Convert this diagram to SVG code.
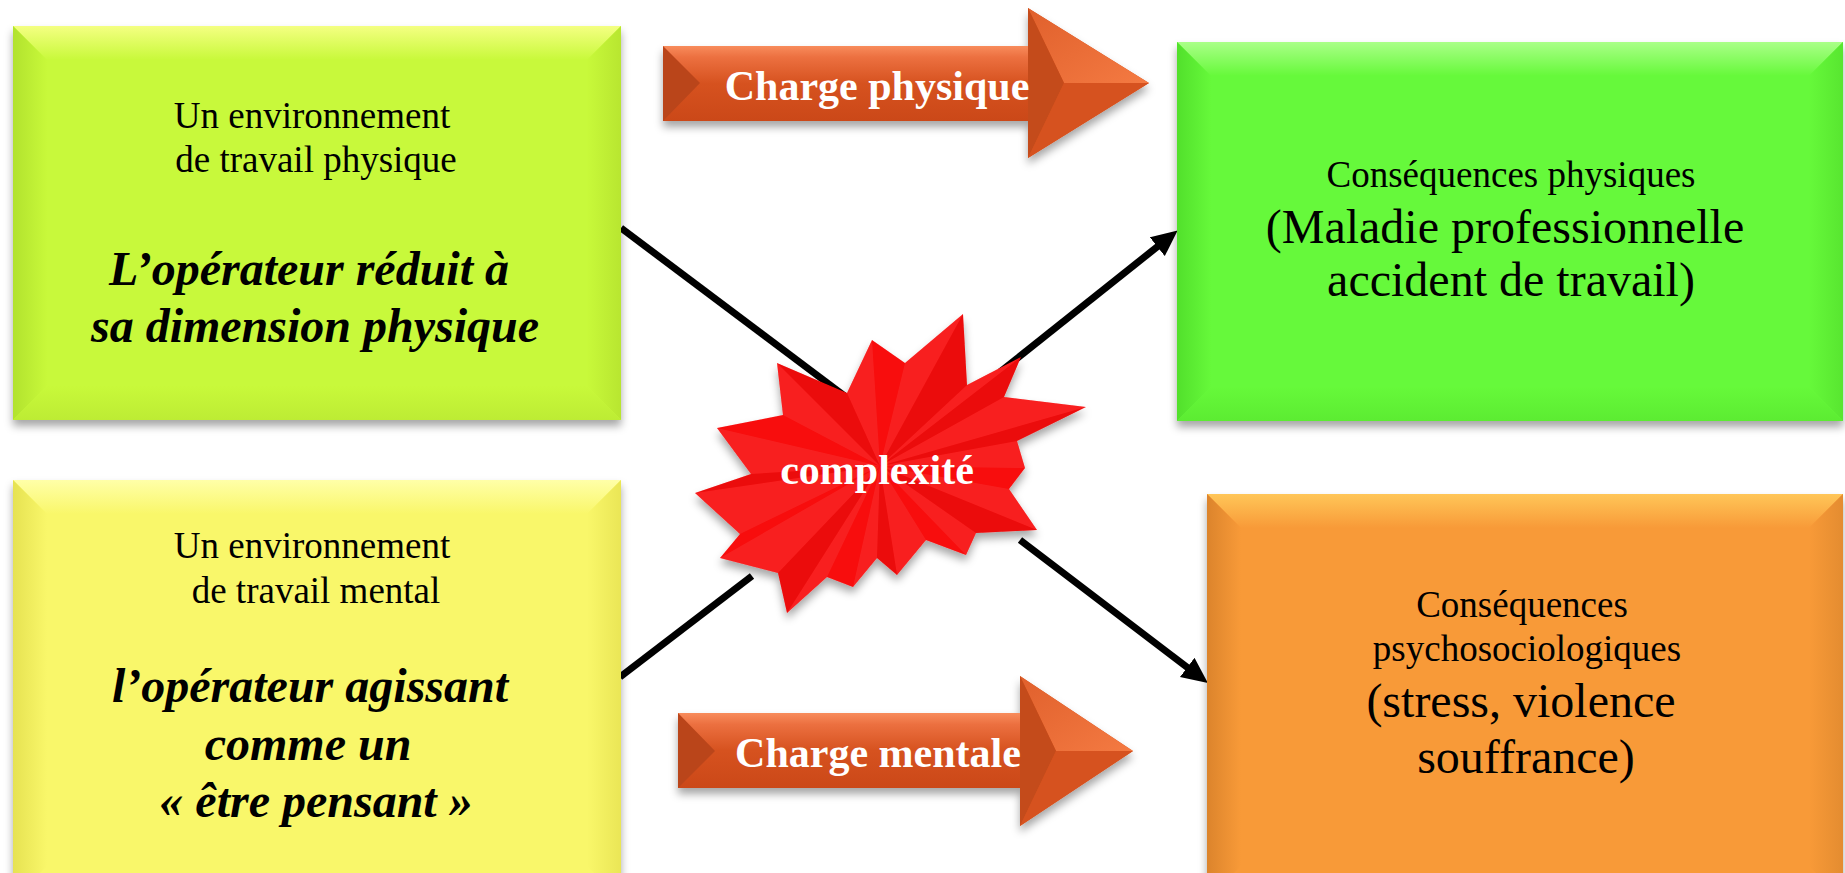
<svg xmlns="http://www.w3.org/2000/svg" width="1845" height="873" viewBox="0 0 1845 873">
<defs>
<style>
.t1{font-family:"Liberation Serif","Times New Roman",serif;font-size:37px;text-anchor:middle;fill:#000}
.t2{font-family:"Liberation Serif","Times New Roman",serif;font-size:48px;font-weight:bold;font-style:italic;text-anchor:middle;fill:#000}
.t3{font-family:"Liberation Serif","Times New Roman",serif;font-size:48px;text-anchor:middle;fill:#000}
.tw{font-family:"Liberation Serif","Times New Roman",serif;font-size:42px;font-weight:bold;text-anchor:middle;fill:#fff}
.conn{stroke:#000;stroke-width:7;fill:none;marker-end:url(#ah)}
.ln{stroke:#000;stroke-width:7;fill:none}
.lt{fill:#fff;fill-opacity:0.08}
.dk{fill:#000;fill-opacity:0.05}
</style>
<filter id="sh" x="-10%" y="-10%" width="120%" height="130%">
<feDropShadow dx="0" dy="6" stdDeviation="4" flood-color="#000" flood-opacity="0.35"/>
</filter>
<marker id="ah" markerUnits="userSpaceOnUse" markerWidth="28" markerHeight="26" refX="6" refY="12" orient="auto">
<path d="M0,0 L26,12 L0,24 z" fill="#000"/>
</marker>
<linearGradient id="aTop" x1="0" y1="0" x2="0" y2="1"><stop offset="0" stop-color="#F4FF82"/><stop offset="1" stop-color="#C8F93A"/></linearGradient>
<linearGradient id="aL" x1="0" y1="0" x2="1" y2="0"><stop offset="0" stop-color="#B2E22E"/><stop offset="1" stop-color="#C8F93A"/></linearGradient>
<linearGradient id="aR" x1="1" y1="0" x2="0" y2="0"><stop offset="0" stop-color="#B8E630"/><stop offset="1" stop-color="#C8F93A"/></linearGradient>
<linearGradient id="aB" x1="0" y1="1" x2="0" y2="0"><stop offset="0" stop-color="#BDEC34"/><stop offset="1" stop-color="#C8F93A"/></linearGradient>
<linearGradient id="bTop" x1="0" y1="0" x2="0" y2="1"><stop offset="0" stop-color="#FFFFA8"/><stop offset="1" stop-color="#F9F76A"/></linearGradient>
<linearGradient id="bL" x1="0" y1="0" x2="1" y2="0"><stop offset="0" stop-color="#E6E252"/><stop offset="1" stop-color="#F9F76A"/></linearGradient>
<linearGradient id="bR" x1="1" y1="0" x2="0" y2="0"><stop offset="0" stop-color="#EAE656"/><stop offset="1" stop-color="#F9F76A"/></linearGradient>
<linearGradient id="cTop" x1="0" y1="0" x2="0" y2="1"><stop offset="0" stop-color="#AAFF88"/><stop offset="1" stop-color="#66F93A"/></linearGradient>
<linearGradient id="cL" x1="0" y1="0" x2="1" y2="0"><stop offset="0" stop-color="#52E02C"/><stop offset="1" stop-color="#66F93A"/></linearGradient>
<linearGradient id="cR" x1="1" y1="0" x2="0" y2="0"><stop offset="0" stop-color="#58E630"/><stop offset="1" stop-color="#66F93A"/></linearGradient>
<linearGradient id="cB" x1="0" y1="1" x2="0" y2="0"><stop offset="0" stop-color="#5CEC32"/><stop offset="1" stop-color="#66F93A"/></linearGradient>
<linearGradient id="dTop" x1="0" y1="0" x2="0" y2="1"><stop offset="0" stop-color="#FFC658"/><stop offset="1" stop-color="#F89A38"/></linearGradient>
<linearGradient id="dL" x1="0" y1="0" x2="1" y2="0"><stop offset="0" stop-color="#DC842C"/><stop offset="1" stop-color="#F89A38"/></linearGradient>
<linearGradient id="dR" x1="1" y1="0" x2="0" y2="0"><stop offset="0" stop-color="#E48C30"/><stop offset="1" stop-color="#F89A38"/></linearGradient>
<linearGradient id="gBody" x1="0" y1="0" x2="0" y2="1"><stop offset="0" stop-color="#F88C5C"/><stop offset="0.15" stop-color="#EC7040"/><stop offset="0.5" stop-color="#D6521F"/><stop offset="1" stop-color="#CB4818"/></linearGradient>
<linearGradient id="gHeadU" x1="0" y1="0" x2="1" y2="1"><stop offset="0" stop-color="#E0602C"/><stop offset="1" stop-color="#F47A42"/></linearGradient>
</defs>

<g id="connectors">
<line class="ln" x1="621" y1="228" x2="870" y2="415"/>
<line class="conn" x1="1000" y1="372" x2="1162" y2="243"/>
<line class="ln" x1="620" y1="677" x2="752" y2="576"/>
<line class="conn" x1="1020" y1="540" x2="1192" y2="671"/>
</g>

<g id="box-env-physique">
<rect x="13" y="26" width="608" height="394" fill="#C8F93A" filter="url(#sh)"/>
<polygon points="13,26 621,26 587,60 47,60" fill="url(#aTop)"/>
<polygon points="13,26 47,60 47,386 13,420" fill="url(#aL)"/>
<polygon points="621,26 621,420 587,386 587,60" fill="url(#aR)"/>
<polygon points="13,420 47,386 587,386 621,420" fill="url(#aB)"/>
<text class="t1" x="312" y="128">Un environnement</text>
<text class="t1" x="316" y="172">de travail physique</text>
<text class="t2" x="309" y="285">L’opérateur réduit à</text>
<text class="t2" x="315" y="342">sa dimension physique</text>
</g>

<g id="box-env-mental">
<rect x="13" y="480" width="608" height="420" fill="#F9F76A" filter="url(#sh)"/>
<polygon points="13,480 621,480 587,514 47,514" fill="url(#bTop)"/>
<polygon points="13,480 47,514 47,866 13,900" fill="url(#bL)"/>
<polygon points="621,480 621,900 587,866 587,514" fill="url(#bR)"/>
<text class="t1" x="312" y="558">Un environnement</text>
<text class="t1" x="316" y="603">de travail mental</text>
<text class="t2" x="310" y="702">l’opérateur agissant</text>
<text class="t2" x="308" y="760">comme un</text>
<text class="t2" x="316" y="817">« être pensant »</text>
</g>

<g id="box-csq-physiques">
<rect x="1177" y="42" width="666" height="379" fill="#66F93A" filter="url(#sh)"/>
<polygon points="1177,42 1843,42 1809,76 1211,76" fill="url(#cTop)"/>
<polygon points="1177,42 1211,76 1211,387 1177,421" fill="url(#cL)"/>
<polygon points="1843,42 1843,421 1809,387 1809,76" fill="url(#cR)"/>
<polygon points="1177,421 1211,387 1809,387 1843,421" fill="url(#cB)"/>
<text class="t1" x="1511" y="187">Conséquences physiques</text>
<text class="t3" x="1505" y="243">(Maladie professionnelle</text>
<text class="t3" x="1511" y="296">accident de travail)</text>
</g>

<g id="box-csq-psycho">
<rect x="1207" y="494" width="636" height="420" fill="#F89A38" filter="url(#sh)"/>
<polygon points="1207,494 1843,494 1809,528 1241,528" fill="url(#dTop)"/>
<polygon points="1207,494 1241,528 1241,866 1207,900" fill="url(#dL)"/>
<polygon points="1843,494 1843,900 1809,866 1809,528" fill="url(#dR)"/>
<text class="t1" x="1522" y="617">Conséquences</text>
<text class="t1" x="1527" y="661">psychosociologiques</text>
<text class="t3" x="1521" y="717">(stress, violence</text>
<text class="t3" x="1526" y="773">souffrance)</text>
</g>

<g id="arrow-charge-physique">
<polygon points="663,46 1028,46 1028,8 1149,83 1028,158 1028,121 663,121" fill="#D6521F" filter="url(#sh)"/>
<rect x="663" y="46" width="366" height="75" fill="url(#gBody)"/>
<polygon points="663,46 700,83 663,121" fill="#BA451A"/>
<polygon points="1028,8 1149,83 1064,83" fill="url(#gHeadU)"/>
<polygon points="1028,8 1064,83 1028,158" fill="#C44B1B"/>
<polygon points="1028,158 1149,83 1064,83" fill="#D6521F"/>
<text class="tw" x="877" y="100">Charge physique</text>
</g>

<g id="arrow-charge-mentale">
<polygon points="678,713 1020,713 1020,676 1133,751 1020,826 1020,788 678,788" fill="#D6521F" filter="url(#sh)"/>
<rect x="678" y="713" width="343" height="75" fill="url(#gBody)"/>
<polygon points="678,713 715,751 678,788" fill="#BA451A"/>
<polygon points="1020,676 1133,751 1056,751" fill="url(#gHeadU)"/>
<polygon points="1020,676 1056,751 1020,826" fill="#C44B1B"/>
<polygon points="1020,826 1133,751 1056,751" fill="#D6521F"/>
<text class="tw" x="878" y="767">Charge mentale</text>
</g>

<g id="star-complexite">
<polygon points="963,314 967,385 1021,357 1004,397 1086,407 1017,441 1025,468 1009,489 1037,530 976,533 966,555 926,540 897,575 877,558 853,587 827,577 787,613 778,573 720,558 740,534 695,493 751,474 717,428 783,415 777,363 847,393 872,340 905,363" fill="#F80A0A" filter="url(#sh)"/>
<g>
<polygon class="lt" points="880,466 905,363 963,314"/>
<polygon class="lt" points="880,466 967,385 1021,357"/>
<polygon class="lt" points="880,466 1004,397 1086,407"/>
<polygon class="lt" points="880,466 1017,441 1025,468"/>
<polygon class="lt" points="880,466 1009,489 1037,530"/>
<polygon class="lt" points="880,466 976,533 966,555"/>
<polygon class="lt" points="880,466 926,540 897,575"/>
<polygon class="lt" points="880,466 877,558 853,587"/>
<polygon class="lt" points="880,466 827,577 787,613"/>
<polygon class="lt" points="880,466 778,573 720,558"/>
<polygon class="lt" points="880,466 740,534 695,493"/>
<polygon class="lt" points="880,466 751,474 717,428"/>
<polygon class="lt" points="880,466 783,415 777,363"/>
<polygon class="lt" points="880,466 847,393 872,340"/>
<polygon class="dk" points="880,466 963,314 967,385"/>
<polygon class="dk" points="880,466 1021,357 1004,397"/>
<polygon class="dk" points="880,466 1086,407 1017,441"/>
<polygon class="dk" points="880,466 1037,530 976,533"/>
<polygon class="dk" points="880,466 897,575 877,558"/>
<polygon class="dk" points="880,466 787,613 778,573"/>
<polygon class="dk" points="880,466 695,493 751,474"/>
<polygon class="dk" points="880,466 777,363 847,393"/>
</g>
<text class="tw" x="877" y="484">complexité</text>
</g>
</svg>
